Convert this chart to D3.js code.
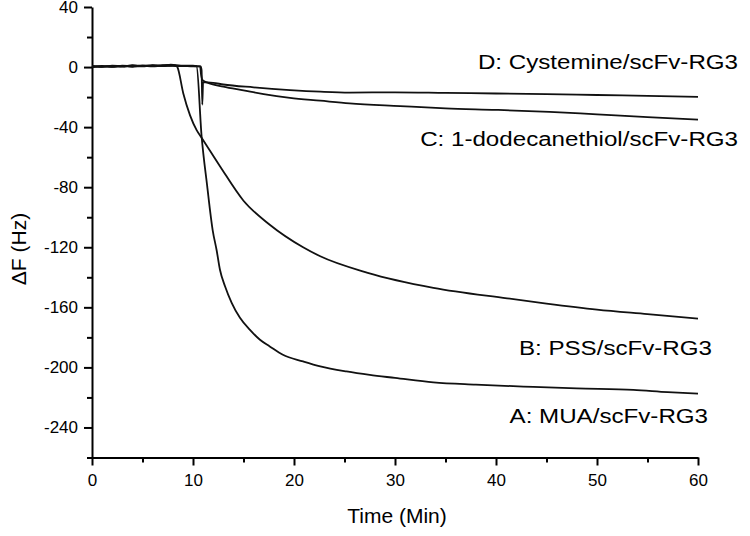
<!DOCTYPE html>
<meta charset="utf-8">
<style>
  html, body {
      margin: 0;
      padding: 0;
      background: #fff;
  }

  svg text {
      font-family: "Liberation Sans", Arial, sans-serif;
      fill: #000;
  }

  .axis path, .axis line {
      stroke: #000;
      stroke-width: 2px;
  }

  .trace {
      fill: none;
      stroke: #111;
      stroke-width: 1.8px;
  }
</style>
<body>
</body>
<script src="https://cdn.jsdelivr.net/npm/d3@7"></script>
<script>

  /* data: [time (min), delta F (Hz)] */
  var seriesA = [
      [0, 0.3], [1, 0.8], [2, 0.2], [3, 0.9], [4, 0.5], [5, 1.1], [6, 0.7], [7, 1.2],
      [8, 1.4], [9, 1.0], [10, 0.9], [10.35, 0.6], [10.85, -46], [11.4, -79],
      [11.95, -108.7], [12.34, -122], [12.67, -135], [13.17, -146], [13.83, -157],
      [14.65, -167], [15.64, -175], [16.63, -181.6], [17.6, -186], [18.9, -191.6],
      [20.9, -196], [22.6, -199.3], [25.2, -202.7], [27.5, -205], [30, -207],
      [33.8, -210], [38, -211.5], [43.7, -213], [48, -214], [53.6, -215],
      [57, -216.5], [60, -217.5]
  ];

  var seriesB = [
      [0, 0.6], [1, 0.2], [2, 1.0], [3, 0.4], [4, 1.2], [5, 0.6], [6, 1.3], [7, 0.9],
      [7.8, 1.6], [8.3, 1.0], [8.45, 0], [9.04, -17.6], [9.7, -32], [10.36, -42],
      [10.85, -47], [12.67, -66], [15.0, -89], [17.6, -105], [20.9, -120],
      [22.6, -126], [27.3, -137], [33.8, -147], [41.1, -154], [45, -157.5],
      [50, -161.5], [55, -164.5], [60, -167.5]
  ];

  var seriesC = [
      [0, -0.2], [1, 0.5], [2, 0.1], [3, 0.7], [4, 0.2], [5, 0.8], [6, 0.4], [7, 1.0],
      [8, 0.8], [9, 0.6], [10, 0.7], [10.7, 0.5], [10.8, -5], [10.95, -8.7],
      [11.5, -10.5], [13, -13], [15, -15.5], [17, -18], [19.6, -20.5], [22.6, -22.4],
      [25.5, -24.2], [30.5, -26], [35, -27.5], [40, -28.5], [45.3, -29.8],
      [50, -31.5], [55, -33.3], [60, -35]
  ];

  var seriesD = [
      [0, 0.8], [1, 0.1], [2, 0.7], [3, 0.3], [4, 1.0], [5, 0.4], [6, 1.1], [7, 0.6],
      [8, 1.0], [9, 0.8], [10, 0.5], [10.75, 0.4], [10.85, -2], [10.92, -25],
      [11.0, -10], [12, -10.5], [13, -11.6], [16, -13.5], [19.6, -15.3],
      [22.6, -16.4], [25.5, -17], [30, -16.8], [35, -17.2], [40, -17.6],
      [45, -18], [50, -18.6], [55, -19.2], [60, -19.8]
  ];

  var seriesNames = ["A: MUA/scFv-RG3", "B: PSS/scFv-RG3",
                     "C: 1-dodecanethiol/scFv-RG3", "D: Cystemine/scFv-RG3"];

  var xTicks = [0, 10, 20, 30, 40, 50, 60];
  var xMinorTicks = [5, 15, 25, 35, 45, 55];
  var yTicks = [-240, -200, -160, -120, -80, -40, 0, 40];
  var yMinorTicks = [-260, -220, -180, -140, -100, -60, -20, 20];

  var width = 750;
  var height = 536;

  var svg = d3.select("body").append("svg")
      .attr("width", width)
      .attr("height", height);

  var x = d3.scaleLinear().domain([0, 60]).range([92, 698]);
  var y = d3.scaleLinear().domain([-260, 40]).range([457.5, 7]);

  /* plain hyphen for negatives, like the original */
  var fmt = d => String(d);

  /* minor ticks first, major axes on top */
  svg.append("g")
      .attr("class", "axis")
      .attr("transform", "translate(0," + y(-260) + ")")
      .call(d3.axisBottom(x).tickValues(xMinorTicks).tickSize(5).tickFormat(""))
      .select(".domain").remove();

  svg.append("g")
      .attr("class", "axis")
      .attr("transform", "translate(" + x(0) + ",0)")
      .call(d3.axisLeft(y).tickValues(yMinorTicks).tickSize(5).tickFormat(""))
      .select(".domain").remove();

  var xAxis = svg.append("g")
      .attr("class", "axis")
      .attr("transform", "translate(0," + y(-260) + ")")
      .call(d3.axisBottom(x).tickValues(xTicks).tickFormat(fmt)
            .tickSizeInner(8).tickSizeOuter(0).tickPadding(8));
  xAxis.selectAll("text").style("font-size", "17px");

  var yAxis = svg.append("g")
      .attr("class", "axis")
      .attr("transform", "translate(" + x(0) + ",0)")
      .call(d3.axisLeft(y).tickValues(yTicks).tickFormat(fmt)
            .tickSizeInner(8).tickSizeOuter(0).tickPadding(6));
  yAxis.selectAll("text").style("font-size", "17px");

  /* axis titles */
  svg.append("text")
      .attr("x", 397)
      .attr("y", 523)
      .attr("text-anchor", "middle")
      .style("font-size", "21px")
      .text("Time (Min)");

  svg.append("text")
      .attr("transform", "translate(26,249) rotate(-90)")
      .attr("text-anchor", "middle")
      .style("font-size", "21px")
      .text("\u0394F (Hz)");

  /* traces */
  var line = d3.line()
      .x(d => x(d[0]))
      .y(d => y(d[1]))
      .curve(d3.curveMonotoneX);

  [seriesA, seriesB, seriesC, seriesD].forEach(function (s) {
      svg.append("path")
          .datum(s)
          .attr("class", "trace")
          .attr("d", line);
  });

  /* series labels */
  var labelPos = [[708, 423], [712, 355], [738, 146], [738, 69]];
  seriesNames.forEach(function (name, i) {
      svg.append("text")
          .attr("transform", "translate(" + labelPos[i][0] + "," + labelPos[i][1] + ") scale(1.15,1)")
          .attr("text-anchor", "end")
          .style("font-size", "21px")
          .text(name);
  });

</script>
